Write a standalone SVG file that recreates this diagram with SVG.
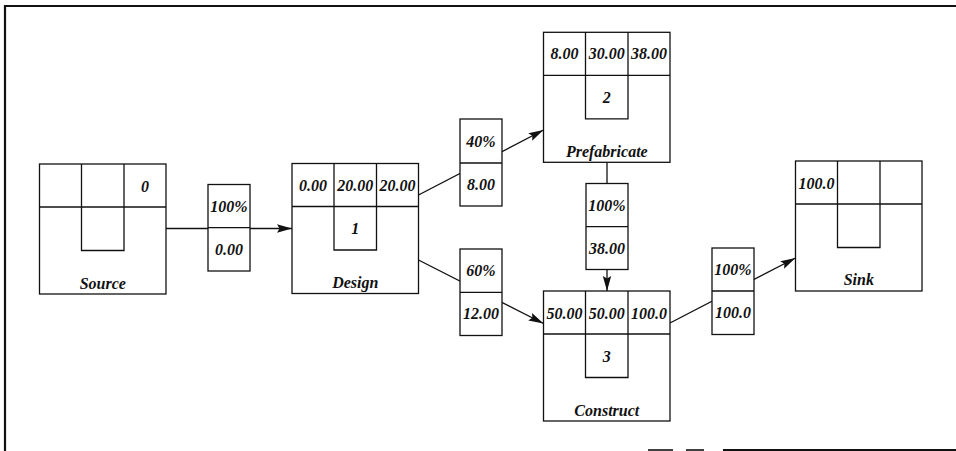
<svg xmlns="http://www.w3.org/2000/svg" width="956" height="451" viewBox="0 0 956 451">
<style>
.b{fill:#fff;stroke:#111;stroke-width:1.3}
.l{fill:none;stroke:#111;stroke-width:1.3}
.c{stroke:#111;stroke-width:1.3;fill:none}
text{font-family:"Liberation Serif","Times New Roman",serif;font-weight:bold;font-style:italic;font-size:16px;fill:#111;text-anchor:middle}
.fr{stroke:#111;fill:none}
</style>
<defs>
<marker id="ah" markerUnits="userSpaceOnUse" markerWidth="16" markerHeight="10" refX="15" refY="5" orient="auto">
<path d="M0,0.8 L15,5 L0,9.2 L2.5,5 z" fill="#111"/>
</marker>
<g id="cellgrid">
<rect class="b" x="0" y="0" width="126.5" height="130"/>
<line class="l" x1="0" y1="43" x2="126.5" y2="43"/>
<polyline class="l" points="42,0 42,86.5 84.5,86.5 84.5,0"/>
</g>
</defs>
<g id="frame">
<line class="fr" stroke-width="2.2" x1="5" y1="6" x2="956" y2="6"/>
<line class="fr" stroke-width="2.2" x1="5" y1="5" x2="5" y2="451"/>
<line class="fr" stroke-width="1.6" x1="648" y1="450" x2="673" y2="450"/>
<line class="fr" stroke-width="1.6" x1="686" y1="450" x2="704" y2="450"/>
<line class="fr" stroke-width="1.8" x1="723" y1="450" x2="956" y2="450"/>
</g>
<g id="connectors">
<line class="c" x1="166" y1="228.5" x2="292" y2="228.5" marker-end="url(#ah)"/>
<line class="c" x1="418.5" y1="195" x2="543.5" y2="130" marker-end="url(#ah)"/>
<line class="c" x1="418.5" y1="260" x2="543.5" y2="323.5" marker-end="url(#ah)"/>
<line class="c" x1="607" y1="162" x2="607" y2="291" marker-end="url(#ah)"/>
<line class="c" x1="670" y1="323" x2="795.5" y2="258" marker-end="url(#ah)"/>
<g id="label-source-design">
<rect class="b" x="208" y="184.5" width="42" height="86.5"/>
<line class="l" x1="208" y1="227.7" x2="250" y2="227.7"/>
<text x="229" y="212">100%</text>
<text x="229" y="255">0.00</text>
</g>
<g id="label-design-prefab">
<rect class="b" x="460" y="119" width="42" height="87"/>
<line class="l" x1="460" y1="163" x2="502" y2="163"/>
<text x="481" y="147">40%</text>
<text x="481" y="190">8.00</text>
</g>
<g id="label-design-construct">
<rect class="b" x="460" y="249" width="42" height="86.5"/>
<line class="l" x1="460" y1="292.3" x2="502" y2="292.3"/>
<text x="481" y="276">60%</text>
<text x="481" y="319">12.00</text>
</g>
<g id="label-prefab-construct">
<rect class="b" x="586" y="183.5" width="42" height="86"/>
<line class="l" x1="586" y1="226.7" x2="628" y2="226.7"/>
<text x="607" y="211">100%</text>
<text x="607" y="254">38.00</text>
</g>
<g id="label-construct-sink">
<rect class="b" x="712" y="248" width="42" height="86.5"/>
<line class="l" x1="712" y1="291" x2="754" y2="291"/>
<text x="733" y="275">100%</text>
<text x="733" y="318">100.0</text>
</g>
</g>
<g id="node-source" transform="translate(39.5,164)">
<use href="#cellgrid"/>
<text x="105.5" y="27.5">0</text>
<text x="63.3" y="125">Source</text>
</g>
<g id="node-design" transform="translate(292,163.5)">
<use href="#cellgrid"/>
<text x="21" y="27.5">0.00</text>
<text x="63.3" y="27.5">20.00</text>
<text x="105.5" y="27.5">20.00</text>
<text x="63.3" y="70.5">1</text>
<text x="63.3" y="124.5">Design</text>
</g>
<g id="node-prefabricate" transform="translate(543.5,32.3)">
<use href="#cellgrid"/>
<text x="21" y="27">8.00</text>
<text x="63.3" y="27">30.00</text>
<text x="105.5" y="27">38.00</text>
<text x="63.3" y="70.5">2</text>
<text x="63.3" y="124.5">Prefabricate</text>
</g>
<g id="node-construct" transform="translate(543.5,291)">
<use href="#cellgrid"/>
<text x="21" y="27.5">50.00</text>
<text x="63.3" y="27.5">50.00</text>
<text x="105.5" y="27.5">100.0</text>
<text x="63.3" y="70.5">3</text>
<text x="63.3" y="124.5">Construct</text>
</g>
<g id="node-sink" transform="translate(795.5,161)">
<use href="#cellgrid"/>
<text x="21" y="27.5">100.0</text>
<text x="63.3" y="124">Sink</text>
</g>
</svg>
